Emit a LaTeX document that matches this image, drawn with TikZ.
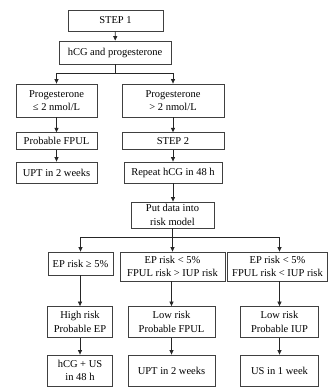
\documentclass[tikz,border=0pt]{standalone}
\usepackage{fontspec}
\setmainfont{Liberation Serif}
\usetikzlibrary{arrows.meta}

\tikzset{every picture/.style={line width=0.75pt}}
\tikzset{
  box/.style={draw=black!75, line width=0.8pt, inner sep=0pt, align=center,
    font=\fontsize{10.5}{13.3}\selectfont},
  arr/.style={draw=black!85, line width=0.7pt, -{Triangle[length=4.5pt,width=4pt]}},
  ln/.style={draw=black!85, line width=0.7pt}
}

\begin{document}
\begin{tikzpicture}[x=1pt,y=1pt,yscale=-1]
\useasboundingbox (0,0) rectangle (330,387);

%Shape: Rectangle [STEP 1]
\node [box, minimum width=95, minimum height=21] (step1) at (115.5,20.5) {STEP 1};
%Shape: Rectangle [hCG]
\node [box, minimum width=112, minimum height=23] (hcg) at (115,52.5) {hCG and progesterone};
%Shape: Rectangle [low progesterone]
\node [box, minimum width=81, minimum height=33] (proglow) at (56.5,100.5) {Progesterone\\≤ 2 nmol/L};
%Shape: Rectangle [high progesterone]
\node [box, minimum width=102, minimum height=33] (proghigh) at (173,100.5) {Progesterone\\> 2 nmol/L};
%Shape: Rectangle
\node [box, minimum width=81, minimum height=16.6] (fpul) at (56.5,141) {Probable FPUL};
%Shape: Rectangle
\node [box, minimum width=81, minimum height=21] (uptA) at (56.5,172.5) {UPT in 2 weeks};
%Shape: Rectangle [STEP 2]
\node [box, minimum width=102, minimum height=16.6] (step2) at (173,141) {STEP 2};
%Shape: Rectangle
\node [box, minimum width=98, minimum height=21] (repeat) at (173,172.5) {Repeat hCG in 48 h};
%Shape: Rectangle [risk model]
\node [box, minimum width=83, minimum height=26] (model) at (172.5,215) {Put data into\\risk model};
%Shape: Rectangle [EP risk rows]
\node [box, minimum width=65, minimum height=23] (ephigh) at (80.5,263.5) {EP risk ≥ 5\%};
\node [box, minimum width=105, minimum height=29] (eplowF) at (172.5,266.5) {EP risk < 5\%\\FPUL risk > IUP risk};
\node [box, minimum width=100, minimum height=29] (eplowI) at (277.5,266.5) {EP risk < 5\%\\FPUL risk < IUP risk};
%Shape: Rectangle [risk groups]
\node [box, minimum width=65, minimum height=31] (highrisk) at (80,322) {High risk\\Probable EP};
\node [box, minimum width=87, minimum height=31] (lowF) at (171.5,322) {Low risk\\Probable FPUL};
\node [box, minimum width=78, minimum height=31] (lowI) at (279.5,322) {Low risk\\Probable IUP};
%Shape: Rectangle [follow up]
\node [box, minimum width=65, minimum height=31] (hcgus) at (80,370.5) {hCG + US\\in 48 h};
\node [box, minimum width=87, minimum height=31] (uptB) at (171.5,370.5) {UPT in 2 weeks};
\node [box, minimum width=78, minimum height=31] (us1) at (279.5,370.5) {US in 1 week};

%Straight Lines
\draw [arr] (step1) -- (hcg);
\coordinate (splitA) at (115,73);
\draw [ln] (hcg.south) -- (splitA);
\draw [arr] (splitA) -| (proglow.north);
\draw [arr] (splitA) -| (proghigh.north);
\draw [arr] (proglow) -- (fpul);
\draw [arr] (fpul) -- (uptA);
\draw [arr] (proghigh) -- (step2);
\draw [arr] (step2) -- (repeat);
\draw [arr] (repeat.south) -- (model.north -| repeat.south);
\coordinate (splitB) at (172.5,237);
\draw [ln] (model.south) -- (splitB);
\draw [arr] (splitB) -| (ephigh.north);
\draw [arr] (splitB) -- (eplowF.north);
\draw [arr] (splitB) -| (lowI.north |- eplowI.north);
\draw [arr] (ephigh.south -| highrisk.north) -- (highrisk.north);
\draw [arr] (eplowF.south -| lowF.north) -- (lowF.north);
\draw [arr] (eplowI.south -| lowI.north) -- (lowI.north);
\draw [arr] (highrisk) -- (hcgus);
\draw [arr] (lowF) -- (uptB);
\draw [arr] (lowI) -- (us1);

\end{tikzpicture}
\end{document}
